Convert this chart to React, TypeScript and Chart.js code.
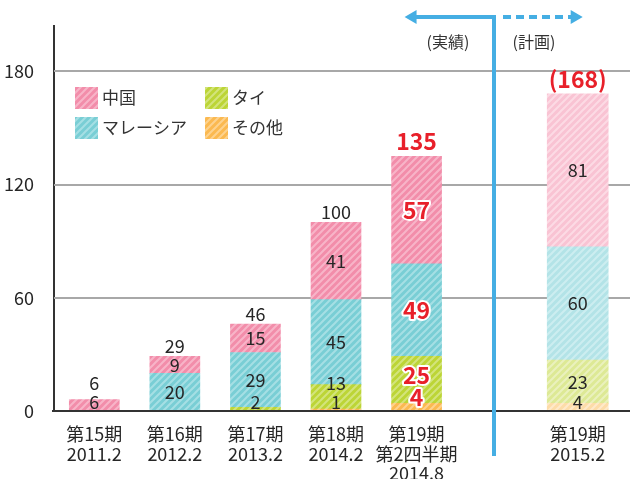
import React, { useEffect, useRef } from 'react';
import { Chart, registerables } from 'chart.js';

Chart.register(...registerables);

// ---------- data ----------
const categories: (string | string[])[] = [
  ['第15期', '2011.2'],
  ['第16期', '2012.2'],
  ['第17期', '2013.2'],
  ['第18期', '2014.2'],
  ['第19期', '第2四半期', '2014.8'],
  '',
  ['第19期', '2015.2'],
];
const otherActual = [null, null, null, 1, 4, null, null];
const thaiActual = [null, null, 2, 13, 25, null, null];
const malaysiaActual = [null, 20, 29, 45, 49, null, null];
const chinaActual = [6, 9, 15, 41, 57, null, null];
const otherPlan = [null, null, null, null, null, null, 4];
const thaiPlan = [null, null, null, null, null, null, 23];
const malaysiaPlan = [null, null, null, null, null, null, 60];
const chinaPlan = [null, null, null, null, null, null, 81];
const yTicks = [0, 60, 120, 180];
const yMax = 204;
const highlightIndex = 4;
const planIndex = 6;
const actualText = '(実績)';
const planText = '(計画)';

const FONT = '"Noto Sans CJK JP", "Noto Sans", sans-serif';

function stripe(base: string, line: string): CanvasPattern | string {
  const p = 7;
  const c = document.createElement('canvas');
  c.width = p;
  c.height = p;
  const g = c.getContext('2d');
  if (!g) return base;
  g.fillStyle = base;
  g.fillRect(0, 0, p, p);
  g.strokeStyle = line;
  g.lineWidth = 2;
  g.beginPath();
  g.moveTo(-1, p + 1);
  g.lineTo(p + 1, -1);
  g.moveTo(-1, 1);
  g.lineTo(1, -1);
  g.moveTo(p - 1, p + 1);
  g.lineTo(p + 1, p - 1);
  g.stroke();
  const pat = g.createPattern(c, 'repeat');
  return pat || base;
}

export default function App() {
  const ref = useRef<HTMLCanvasElement | null>(null);

  useEffect(() => {
    if (!ref.current) return;
    const pinkA = stripe('#F28DAA', '#F7B4C8');
    const tealA = stripe('#79CED5', '#A5DFE4');
    const limeA = stripe('#BCD536', '#D3E47C');
    const orangeA = stripe('#FBB950', '#FDD28E');
    const pinkP = stripe('#F9C3D3', '#FCDAE4');
    const tealP = stripe('#B3E3E7', '#CCEDF0');
    const limeP = stripe('#DDE995', '#EAF1BD');
    const orangeP = stripe('#FDDCA8', '#FEE9CA');

    const mk = (label: string, data: (number | null)[], bg: any, thick: number, plan: boolean) => ({
      label,
      data,
      backgroundColor: bg,
      borderWidth: 0,
      barThickness: thick,
      grouped: false,
      stack: 's',
      _plan: plan,
    });

    const datasets: any[] = [
      mk('その他', otherActual, orangeA, 50, false),
      mk('タイ', thaiActual, limeA, 50, false),
      mk('マレーシア', malaysiaActual, tealA, 50, false),
      mk('中国', chinaActual, pinkA, 50, false),
      mk('その他', otherPlan, orangeP, 61, true),
      mk('タイ', thaiPlan, limeP, 61, true),
      mk('マレーシア', malaysiaPlan, tealP, 61, true),
      mk('中国', chinaPlan, pinkP, 61, true),
    ];

    const gridPlugin = {
      id: 'gridExt',
      beforeDatasetsDraw(chart: any) {
        const { ctx, chartArea, scales } = chart;
        ctx.save();
        ctx.strokeStyle = '#A8A8A8';
        ctx.lineWidth = 2;
        yTicks.forEach((v) => {
          if (v === 0) return;
          const y = Math.round(scales.y.getPixelForValue(v));
          ctx.beginPath();
          ctx.moveTo(chartArea.left, y);
          ctx.lineTo(chart.width, y);
          ctx.stroke();
        });
        ctx.restore();
      },
      afterDatasetsDraw(chart: any) {
        const { ctx, chartArea, scales } = chart;
        const y0 = Math.round(scales.y.getPixelForValue(0));
        ctx.save();
        ctx.strokeStyle = '#333333';
        ctx.lineWidth = 2;
        ctx.beginPath();
        ctx.moveTo(chartArea.left - 2, y0);
        ctx.lineTo(chart.width, y0);
        ctx.stroke();
        ctx.restore();
      },
    };

    const labelPlugin = {
      id: 'segLabels',
      afterDatasetsDraw(chart: any) {
        const { ctx, scales } = chart;
        const y0 = scales.y.getPixelForValue(0);
        ctx.save();
        ctx.textAlign = 'center';
        ctx.textBaseline = 'middle';
        categories.forEach((_, i) => {
          const red = i === highlightIndex;
          const gap = red ? 22 : 19;
          let prev = y0 - (red ? 14 : 8.5) + gap;
          let total = 0;
          let topY = y0;
          let cx = 0;
          let any = false;
          chart.data.datasets.forEach((ds: any, di: number) => {
            const v = ds.data[i];
            if (v === null || v === undefined) return;
            const el = chart.getDatasetMeta(di).data[i];
            if (!el) return;
            any = true;
            total += v;
            cx = el.x;
            topY = Math.min(topY, el.y);
            const center = (el.y + el.base) / 2;
            const y = Math.min(center, prev - gap);
            prev = y;
            if (red) {
              ctx.font = `bold 23px ${FONT}`;
              ctx.lineJoin = 'round';
              ctx.strokeStyle = '#ffffff';
              ctx.lineWidth = 4;
              ctx.strokeText(String(v), cx, y);
              ctx.fillStyle = '#E8202A';
              ctx.fillText(String(v), cx, y);
            } else {
              ctx.font = `18px ${FONT}`;
              ctx.fillStyle = '#262626';
              ctx.fillText(String(v), cx, y);
            }
          });
          if (!any) return;
          const isPlan = i === planIndex;
          const big = red || isPlan;
          const ty = Math.min(topY - (big ? 15 : 10), prev - gap);
          const txt = isPlan ? `(${total})` : String(total);
          if (big) {
            ctx.font = `bold 23px ${FONT}`;
            ctx.fillStyle = '#E8202A';
          } else {
            ctx.font = `18px ${FONT}`;
            ctx.fillStyle = '#262626';
          }
          ctx.fillText(txt, cx, ty);
        });
        ctx.restore();
      },
    };

    const legendPlugin = {
      id: 'customLegend',
      afterDraw(chart: any) {
        const { ctx } = chart;
        const items = [
          { label: chart.data.datasets[3].label, bg: pinkA, x: 75, y: 87 },
          { label: chart.data.datasets[1].label, bg: limeA, x: 205, y: 87 },
          { label: chart.data.datasets[2].label, bg: tealA, x: 75, y: 117 },
          { label: chart.data.datasets[0].label, bg: orangeA, x: 205, y: 117 },
        ];
        ctx.save();
        ctx.font = `17px ${FONT}`;
        ctx.textBaseline = 'middle';
        ctx.textAlign = 'left';
        items.forEach((it) => {
          ctx.fillStyle = it.bg;
          ctx.fillRect(it.x, it.y, 23, 22);
          ctx.fillStyle = '#333333';
          ctx.fillText(it.label, it.x + 27, it.y + 11);
        });
        ctx.restore();
      },
    };

    const dividerPlugin = {
      id: 'divider',
      afterDraw(chart: any) {
        const { ctx, scales } = chart;
        const a = chart.getDatasetMeta(3).data[highlightIndex];
        const b = chart.getDatasetMeta(7).data[planIndex];
        if (!a || !b) return;
        const lx = Math.round(((a.x + a.width / 2) + (b.x - b.width / 2)) / 2);
        const top = 17;
        const bottom = 456;
        const leftTip = scales.x.getPixelForValue(highlightIndex) - 12;
        const rightTip = scales.x.getPixelForValue(planIndex) + 5;
        const blue = '#45AEE3';
        ctx.save();
        ctx.strokeStyle = blue;
        ctx.fillStyle = blue;
        ctx.lineWidth = 4;
        ctx.beginPath();
        ctx.moveTo(lx, bottom);
        ctx.lineTo(lx, top - 2);
        ctx.stroke();
        ctx.beginPath();
        ctx.moveTo(lx, top);
        ctx.lineTo(leftTip + 8, top);
        ctx.stroke();
        ctx.beginPath();
        ctx.moveTo(leftTip, top);
        ctx.lineTo(leftTip + 12, top - 7);
        ctx.lineTo(leftTip + 12, top + 7);
        ctx.closePath();
        ctx.fill();
        ctx.setLineDash([8, 5]);
        ctx.beginPath();
        ctx.moveTo(lx + 9, top);
        ctx.lineTo(rightTip - 9, top);
        ctx.stroke();
        ctx.setLineDash([]);
        ctx.beginPath();
        ctx.moveTo(rightTip, top);
        ctx.lineTo(rightTip - 12, top - 7);
        ctx.lineTo(rightTip - 12, top + 7);
        ctx.closePath();
        ctx.fill();
        ctx.font = `16px ${FONT}`;
        ctx.fillStyle = '#333333';
        ctx.textAlign = 'center';
        ctx.textBaseline = 'middle';
        ctx.fillText(actualText, lx - 46, 42);
        ctx.fillText(planText, lx + 40, 42);
        ctx.restore();
      },
    };

    const chart = new Chart(ref.current, {
      type: 'bar',
      data: { labels: categories as any, datasets },
      options: {
        responsive: false,
        animation: false,
        layout: { padding: { top: 26, right: 12, left: 0, bottom: 0 } },
        plugins: { legend: { display: false }, tooltip: { enabled: false } },
        scales: {
          x: {
            stacked: true,
            grid: { display: false },
            border: { display: false },
            ticks: {
              color: '#262626',
              font: { size: 18, family: FONT, lineHeight: 1.1 },
              padding: 5,
              maxRotation: 0,
              autoSkip: false,
            },
            afterFit(scale: any) {
              scale.height = 68;
            },
          },
          y: {
            stacked: true,
            min: 0,
            max: yMax,
            grid: { display: false },
            border: { display: true, color: '#333333', width: 2 },
            ticks: {
              stepSize: 60,
              color: '#262626',
              font: { size: 18, family: FONT },
              padding: 12,
              callback: (v: any) => (yTicks.includes(Number(v)) ? String(v) : ''),
            },
            afterFit(scale: any) {
              scale.width = 54;
            },
          },
        },
      } as any,
      plugins: [gridPlugin, labelPlugin, legendPlugin, dividerPlugin],
    });
    return () => chart.destroy();
  }, []);

  return (
    <div style={{ position: 'fixed', left: 0, top: 0, width: 630, height: 479, background: '#fff' }}>
      <canvas ref={ref} width={630} height={479} style={{ width: 630, height: 479, display: 'block' }} />
    </div>
  );
}
